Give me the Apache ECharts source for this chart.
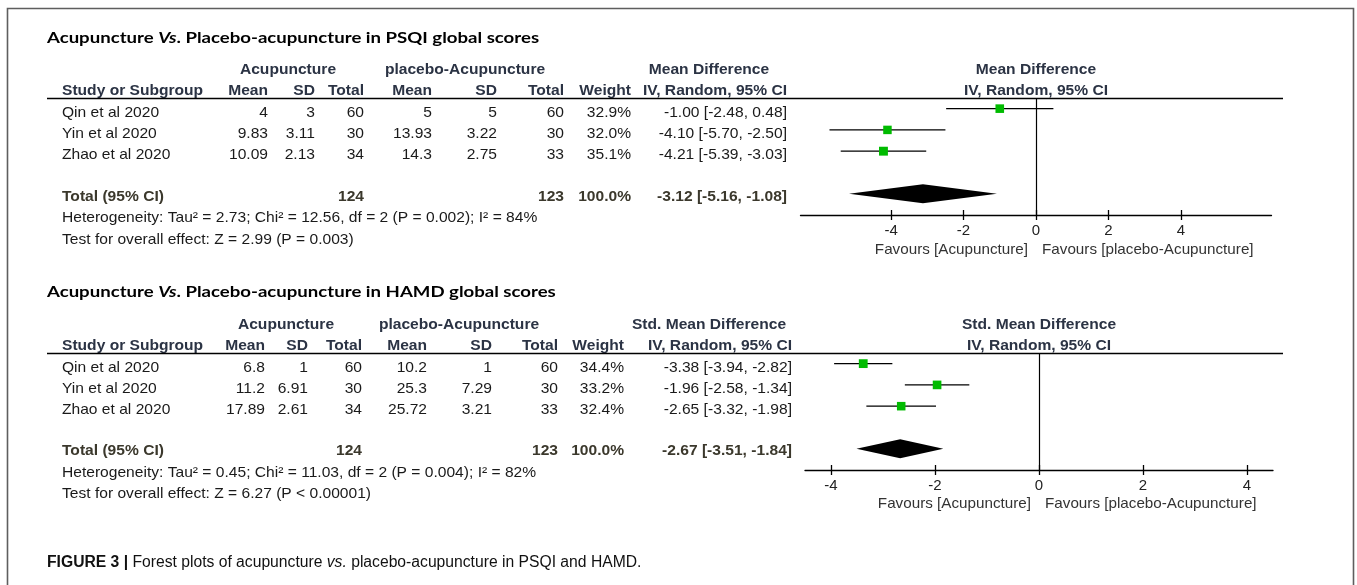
<!DOCTYPE html>
<html><head><meta charset="utf-8">
<script src="https://cdn.jsdelivr.net/npm/echarts@6/dist/echarts.min.js"></script>
<style>html,body{margin:0;padding:0;background:#fff}#c{width:1357px;height:585px}</style>
</head><body><div id="c"></div><script>
// ---------------- DATA ----------------
const studies = ['Qin et al 2020', 'Yin et al 2020', 'Zhao et al 2020'];

// PSQI (Mean Difference)
const psqiAcuMean = [4, 9.83, 10.09];
const psqiAcuSD = [3, 3.11, 2.13];
const psqiAcuN = [60, 30, 34];
const psqiPlaMean = [5, 13.93, 14.3];
const psqiPlaSD = [5, 3.22, 2.75];
const psqiPlaN = [60, 30, 33];
const psqiWeight = [32.9, 32.0, 35.1];
const psqiEst = [-1.00, -4.10, -4.21];
const psqiLo = [-2.48, -5.70, -5.39];
const psqiHi = [0.48, -2.50, -3.03];
const psqiTotal = {acuN: 124, plaN: 123, weight: 100.0, est: -3.12, lo: -5.16, hi: -1.08};
const psqiHet = 'Heterogeneity: Tau² = 2.73; Chi² = 12.56, df = 2 (P = 0.002); I² = 84%';
const psqiTest = 'Test for overall effect: Z = 2.99 (P = 0.003)';

// HAMD (Std. Mean Difference)
const hamdAcuMean = [6.8, 11.2, 17.89];
const hamdAcuSD = [1, 6.91, 2.61];
const hamdAcuN = [60, 30, 34];
const hamdPlaMean = [10.2, 25.3, 25.72];
const hamdPlaSD = [1, 7.29, 3.21];
const hamdPlaN = [60, 30, 33];
const hamdWeight = [34.4, 33.2, 32.4];
const hamdEst = [-3.38, -1.96, -2.65];
const hamdLo = [-3.94, -2.58, -3.32];
const hamdHi = [-2.82, -1.34, -1.98];
const hamdTotal = {acuN: 124, plaN: 123, weight: 100.0, est: -2.67, lo: -3.51, hi: -1.84};
const hamdHet = 'Heterogeneity: Tau² = 0.45; Chi² = 11.03, df = 2 (P = 0.004); I² = 82%';
const hamdTest = 'Test for overall effect: Z = 6.27 (P < 0.00001)';

const tickValues = [-4, -2, 0, 2, 4];
const headerCols = ['Mean', 'SD', 'Total', 'Mean', 'SD', 'Total', 'Weight', 'IV, Random, 95% CI'];

// ---------------- LAYOUT ----------------
const FONT = '"Liberation Sans", Arial, sans-serif';
const BODY = '#1a1a1a';
const HEAD = '#2b3344';
const TOT = '#3b382c';
const FS = 14.5;   // body font size
const SX = 1.075;  // horizontal stretch of the reference text
const GRID_H = 117;

const panels = [
  {
    title: 'PSQI global scores', effect: 'Mean Difference',
    acuMean: psqiAcuMean, acuSD: psqiAcuSD, acuN: psqiAcuN,
    plaMean: psqiPlaMean, plaSD: psqiPlaSD, plaN: psqiPlaN,
    weight: psqiWeight, est: psqiEst, lo: psqiLo, hi: psqiHi, total: psqiTotal,
    het: psqiHet, test: psqiTest,
    titleY: 38, grpY: 70, hdrY: 91, lineY: 98, rowY: [113, 134, 155], totY: 197, hetY: 218, testY: 240,
    cols: [268, 315, 364, 432, 497, 564, 631, 787], grpX: [288, 465, 709],
    gridLeft: 800.5, gridWidth: 471, xMin: -6.5, xMax: 6.5, cx: 1036, favY: 250
  },
  {
    title: 'HAMD global scores', effect: 'Std. Mean Difference',
    acuMean: hamdAcuMean, acuSD: hamdAcuSD, acuN: hamdAcuN,
    plaMean: hamdPlaMean, plaSD: hamdPlaSD, plaN: hamdPlaN,
    weight: hamdWeight, est: hamdEst, lo: hamdLo, hi: hamdHi, total: hamdTotal,
    het: hamdHet, test: hamdTest,
    titleY: 292, grpY: 325, hdrY: 346, lineY: 353, rowY: [368, 389, 410], totY: 451, hetY: 473, testY: 494,
    cols: [265, 308, 362, 427, 492, 558, 624, 792], grpX: [286, 459, 709],
    gridLeft: 805, gridWidth: 468, xMin: -4.5, xMax: 4.5, cx: 1039, favY: 504
  }
];

const f2 = v => v.toFixed(2);
const ci = (e, l, h) => f2(e) + ' [' + f2(l) + ', ' + f2(h) + ']';

const graphics = [];
function txt(x, y, s, o) {
  o = o || {};
  graphics.push({
    type: 'text', x: x, y: y, silent: true, scaleX: o.sx || SX, scaleY: 1,
    style: {
      text: s, fill: o.fill || BODY,
      font: (o.bold ? 'bold ' : '') + (o.size || FS) + 'px ' + (o.family || FONT),
      textAlign: o.align || 'left', textVerticalAlign: 'middle',
      rich: o.rich
    }
  });
}
function hline(x1, x2, y, w) {
  graphics.push({type: 'line', silent: true, shape: {x1: x1, y1: y, x2: x2, y2: y},
    style: {stroke: '#000', lineWidth: w || 1.3}});
}

// outer frame
graphics.push({type: 'rect', silent: true, shape: {x: 7.5, y: 8.5, width: 1346, height: 620},
  style: {fill: 'none', stroke: '#5e5e5e', lineWidth: 1.6}});

const grids = [], xAxes = [], yAxes = [], series = [];
const axisFontSize = 15;

panels.forEach((p, k) => {
  // title
  txt(47, p.titleY, '{n|Acupuncture }{i|Vs}{n|. Placebo-acupuncture in ' + p.title + '}', {
    sx: 1.24,
    rich: {
      n: {font: 'bold 15px Lato, "Open Sans", sans-serif', fill: '#000'},
      i: {font: 'italic bold 15px Lato, "Open Sans", sans-serif', fill: '#000'}
    }
  });
  // group headers
  txt(p.grpX[0], p.grpY, 'Acupuncture', {bold: true, fill: HEAD, align: 'center'});
  txt(p.grpX[1], p.grpY, 'placebo-Acupuncture', {bold: true, fill: HEAD, align: 'center'});
  txt(p.grpX[2], p.grpY, p.effect, {bold: true, fill: HEAD, align: 'center'});
  // column headers
  txt(62, p.hdrY, 'Study or Subgroup', {bold: true, fill: HEAD});
  headerCols.forEach((h, i) => txt(p.cols[i], p.hdrY, h, {bold: true, fill: HEAD, align: 'right'}));
  // plot headers
  txt(p.cx, p.grpY, p.effect, {bold: true, fill: HEAD, align: 'center'});
  txt(p.cx, p.hdrY, 'IV, Random, 95% CI', {bold: true, fill: HEAD, align: 'center'});
  hline(47, 1283, p.lineY + 0.5);
  // rows
  studies.forEach((s, i) => {
    const y = p.rowY[i];
    txt(62, y, s);
    const vals = [p.acuMean[i], p.acuSD[i], p.acuN[i], p.plaMean[i], p.plaSD[i], p.plaN[i],
      p.weight[i].toFixed(1) + '%', ci(p.est[i], p.lo[i], p.hi[i])];
    vals.forEach((v, j) => txt(p.cols[j], y, String(v), {align: 'right'}));
  });
  // total row
  txt(62, p.totY, 'Total (95% CI)', {bold: true, fill: TOT});
  txt(p.cols[2], p.totY, String(p.total.acuN), {bold: true, fill: TOT, align: 'right'});
  txt(p.cols[5], p.totY, String(p.total.plaN), {bold: true, fill: TOT, align: 'right'});
  txt(p.cols[6], p.totY, p.total.weight.toFixed(1) + '%', {bold: true, fill: TOT, align: 'right'});
  txt(p.cols[7], p.totY, ci(p.total.est, p.total.lo, p.total.hi), {bold: true, fill: TOT, align: 'right'});
  txt(62, p.hetY, p.het);
  txt(62, p.testY, p.test);
  // favours labels
  txt(p.cx - 8, p.favY, 'Favours [Acupuncture]', {fill: '#333', align: 'right', sx: 1.05});
  txt(p.cx + 6, p.favY, 'Favours [placebo-Acupuncture]', {fill: '#333', sx: 1.05});

  // grid & axes
  grids.push({left: p.gridLeft, width: p.gridWidth, top: p.lineY, height: GRID_H, containLabel: false});
  // main bottom axis: line, downward ticks, labels
  xAxes.push({
    gridIndex: k, type: 'value', min: p.xMin, max: p.xMax, position: 'bottom',
    axisLine: {show: true, onZero: false, lineStyle: {color: '#000', width: 1.3}},
    axisTick: {show: true, customValues: tickValues, length: 5, lineStyle: {color: '#000', width: 1.3}},
    axisLabel: {show: true, customValues: tickValues, margin: 8, color: '#222', fontSize: axisFontSize,
      fontFamily: FONT, formatter: v => String(v)},
    splitLine: {show: false}
  });
  // helper axis moved onto the bottom edge: upward half of the crossing ticks
  xAxes.push({
    gridIndex: k, type: 'value', min: p.xMin, max: p.xMax, position: 'top', offset: -GRID_H,
    axisLine: {show: false, onZero: false},
    axisTick: {show: true, inside: false, customValues: tickValues, length: 5, lineStyle: {color: '#000', width: 1.3}},
    axisLabel: {show: false}, splitLine: {show: false}
  });
  yAxes.push({gridIndex: k, type: 'value', inverse: true, min: -0.5, max: 5, show: false});

  const rows = studies.map((s, i) => [p.lo[i], p.hi[i], p.est[i], p.weight[i], i]);
  series.push({
    type: 'custom', xAxisIndex: 2 * k, yAxisIndex: k, clip: false, silent: true, animation: false,
    data: rows,
    encode: {x: [0, 1, 2], y: 4},
    renderItem: (params, api) => {
      const y = api.value(4);
      const a = api.coord([api.value(0), y]);
      const b = api.coord([api.value(1), y]);
      const e = api.coord([api.value(2), y]);
      const s = Math.sqrt(api.value(3)) * 1.5;
      return {type: 'group', children: [
        {type: 'line', shape: {x1: a[0], y1: a[1], x2: b[0], y2: b[1]}, style: {stroke: '#000', lineWidth: 1.2}},
        {type: 'rect', shape: {x: e[0] - s / 2, y: e[1] - s / 2, width: s, height: s}, style: {fill: '#00bb00'}}
      ]};
    },
    markLine: {
      silent: true, symbol: ['none', 'none'], animation: false,
      label: {show: false},
      lineStyle: {color: '#000', width: 1.2, type: 'solid'},
      data: [{xAxis: 0}]
    }
  });
  series.push({
    type: 'custom', xAxisIndex: 2 * k, yAxisIndex: k, clip: false, silent: true, animation: false,
    data: [[p.total.lo, p.total.hi, p.total.est, 4]],
    encode: {x: [0, 1, 2], y: 3},
    renderItem: (params, api) => {
      const y = api.value(3);
      const a = api.coord([api.value(0), y]);
      const b = api.coord([api.value(1), y]);
      const e = api.coord([api.value(2), y]);
      const h = 9.5;
      return {type: 'polygon', shape: {points: [a, [e[0], e[1] - h], b, [e[0], e[1] + h]]},
        style: {fill: '#000'}};
    }
  });
});

// caption
txt(47, 563, '{b|FIGURE 3 | }{n|Forest plots of acupuncture }{i|vs.}{n| placebo-acupuncture in PSQI and HAMD.}', {
  sx: 0.98,
  rich: {
    b: {font: 'bold 16px "Liberation Sans", Arial, sans-serif', fill: '#111'},
    n: {font: '16px "Liberation Sans", Arial, sans-serif', fill: '#111'},
    i: {font: 'italic 16px "Liberation Sans", Arial, sans-serif', fill: '#111'}
  }
});

const chart = echarts.init(document.getElementById('c'), null, {renderer: 'canvas'});
chart.setOption({
  animation: false,
  backgroundColor: '#fff',
  grid: grids, xAxis: xAxes, yAxis: yAxes, series: series,
  graphic: {elements: graphics}
});
</script></body></html>
